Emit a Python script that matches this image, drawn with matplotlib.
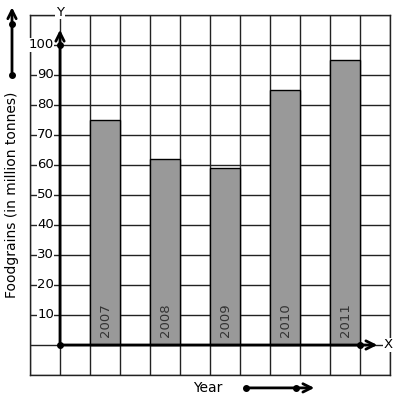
import numpy as np
import matplotlib
matplotlib.use("Agg")
import matplotlib.pyplot as plt

# data
years = ["2007", "2008", "2009", "2010", "2011"]
foodgrains = [75, 62, 59, 85, 95]
bar_left = [1, 3, 5, 7, 9]
y_ticks = [10, 20, 30, 40, 50, 60, 70, 80, 90, 100]

fig = plt.figure(figsize=(3.97, 4.01), dpi=100)
ax = fig.add_axes([30 / 397, 26 / 401, 360 / 397, 360 / 401])
ax.set_xlim(-1, 11)
ax.set_ylim(-10, 110)

# square grid
ax.set_xticks(np.arange(-1, 12))
ax.set_yticks(np.arange(-10, 111, 10))
ax.grid(True, color="#222222", lw=1)
ax.tick_params(length=0, labelbottom=False, labelleft=False)
for s in ax.spines.values():
    s.set_color("#222222")
    s.set_linewidth(1)
ax.set_axisbelow(True)

bars = ax.bar(bar_left, foodgrains, width=1, align="edge", color="#999999",
              edgecolor="black", lw=1, zorder=3)
for x, yr in zip(bar_left, years):
    ax.text(x + 0.5, 8.3, yr, rotation=90, ha="center", va="center",
            fontsize=9.5, color="#333333", zorder=4)

# y tick labels sitting on the grid lines
for v in y_ticks:
    ax.text(-0.2, v, str(v), ha="right", va="center", fontsize=9.5,
            bbox=dict(facecolor="white", edgecolor="none", pad=0.3), zorder=4)

# axes with arrows
arrow = dict(arrowstyle="->", lw=2, color="black", mutation_scale=15)
ax.annotate("", xy=(0, 106), xytext=(0, 0), arrowprops=arrow, zorder=5)
ax.annotate("", xy=(10.67, 0), xytext=(0, 0), arrowprops=arrow, zorder=5)
ax.plot([0, 0, 10], [0, 100, 0], "o", color="black", ms=4, zorder=6)
ax.text(0, 111, "Y", ha="center", va="center", fontsize=9.5,
        bbox=dict(facecolor="white", edgecolor="none", pad=0.5), clip_on=False)
ax.text(10.93, 0, "X", ha="center", va="center", fontsize=9.5,
        bbox=dict(facecolor="white", edgecolor="none", pad=0.5), clip_on=False)

# axis titles with their direction arrows
ax.text(-1.6, 50, "Foodgrains (in million tonnes)", rotation=90, ha="center",
        va="center", fontsize=10, clip_on=False)
ax.annotate("", xy=(-1.6, 113.5), xytext=(-1.6, 90), arrowprops=arrow,
            annotation_clip=False)
ax.plot([-1.6, -1.6], [90, 107], "o", color="black", ms=4, clip_on=False)

ax.text(4.93, -14.3, "Year", ha="center", va="center", fontsize=10, clip_on=False)
ax.annotate("", xy=(8.57, -14.3), xytext=(6.2, -14.3), arrowprops=arrow,
            annotation_clip=False)
ax.plot([6.2, 7.87], [-14.3, -14.3], "o", color="black", ms=4, clip_on=False)

fig.savefig("out.png", dpi=100)
